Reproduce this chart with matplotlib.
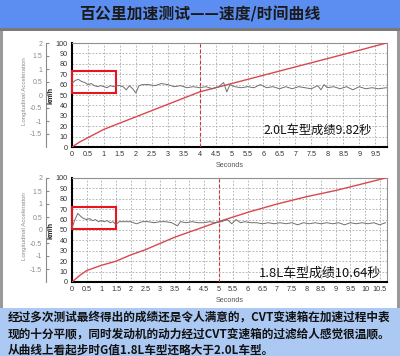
import matplotlib
matplotlib.use('Agg')
import matplotlib.pyplot as plt
from matplotlib.patches import Rectangle

# speed curves (km/h)
t_speed_20 = [0, 0.25, 0.5, 1, 1.5, 2, 2.5, 3, 3.5, 4, 4.5, 5, 6, 7, 8, 9, 9.85]
v_speed_20 = [0, 5, 9, 17, 23, 29, 35, 41, 47, 53, 57, 61, 69, 77, 85, 93, 100]
t_speed_18 = [0, 0.25, 0.5, 1, 1.5, 2, 2.5, 3, 3.5, 4, 5, 6, 7, 8, 9, 10, 10.7]
v_speed_18 = [0, 6, 11, 16, 20, 26, 31, 37, 43, 48, 58, 67, 75, 82, 88, 95, 100]

# longitudinal acceleration (G)
t_acc_20 = [0, 0.1, 0.2, 0.3, 0.4, 0.5, 0.6, 0.7, 0.8, 0.9, 1.0, 1.1, 1.2, 1.3,
            1.4, 1.5, 1.6, 1.7, 1.8, 1.9, 2.0, 2.1, 2.2, 2.4, 2.6, 2.8, 3.0,
            3.2, 3.4, 3.6, 3.8, 4.0, 4.2, 4.4, 4.6, 4.75, 4.85, 4.95, 5.1,
            5.3, 5.5, 5.7, 5.9, 6.1, 6.3, 6.5, 6.7, 6.9, 7.1, 7.3, 7.5, 7.7,
            7.8, 7.9, 8.0, 8.2, 8.4, 8.6, 8.8, 9.0, 9.2, 9.4, 9.6, 9.85]
g_acc_20 = [0.44, 0.56, 0.60, 0.52, 0.48, 0.40, 0.44, 0.36, 0.32, 0.36, 0.32,
            0.28, 0.36, 0.32, 0.36, 0.36, 0.32, 0.20, 0.36, 0.24, 0.08, 0.36,
            0.40, 0.40, 0.36, 0.44, 0.40, 0.32, 0.36, 0.28, 0.32, 0.28, 0.32,
            0.24, 0.32, 0.48, 0.12, 0.40, 0.32, 0.28, 0.32, 0.28, 0.40, 0.28,
            0.32, 0.24, 0.32, 0.24, 0.32, 0.28, 0.24, 0.36, 0.20, 0.40, 0.28,
            0.32, 0.24, 0.32, 0.20, 0.32, 0.24, 0.28, 0.24, 0.28]
t_acc_18 = [0, 0.1, 0.2, 0.3, 0.4, 0.5, 0.6, 0.7, 0.8, 0.9, 1.0, 1.1, 1.2, 1.3,
            1.4, 1.5, 1.6, 1.8, 2.0, 2.2, 2.4, 2.6, 2.8, 3.0, 3.2, 3.4, 3.6,
            3.7, 3.9, 4.1, 4.3, 4.5, 4.7, 4.9, 5.1, 5.3, 5.45, 5.6, 5.75, 5.9,
            6.1, 6.3, 6.5, 6.7, 6.9, 7.1, 7.3, 7.5, 7.7, 7.9, 8.1, 8.3, 8.5,
            8.7, 8.9, 9.1, 9.3, 9.5, 9.7, 9.9, 10.1, 10.3, 10.5, 10.7]
g_acc_18 = [0.08, 0.40, 0.64, 0.52, 0.44, 0.40, 0.44, 0.36, 0.40, 0.32, 0.36,
            0.32, 0.36, 0.28, 0.32, 0.20, 0.32, 0.32, 0.32, 0.24, 0.32, 0.32,
            0.28, 0.32, 0.32, 0.28, 0.16, 0.32, 0.28, 0.32, 0.28, 0.28, 0.32,
            0.28, 0.32, 0.40, 0.24, 0.40, 0.28, 0.32, 0.28, 0.28, 0.24, 0.28,
            0.24, 0.28, 0.24, 0.28, 0.20, 0.28, 0.24, 0.28, 0.24, 0.28, 0.24,
            0.28, 0.20, 0.28, 0.24, 0.28, 0.24, 0.28, 0.20, 0.28]

g_ticks = [2, 1.5, 1, 0.5, 0, -0.5, -1, -1.5]
g_labels = ['2', '1.5', '1', '0.5', '0', '-0.5', '-1', '-1.5']

title = '百公里加速测试——速度/时间曲线'
note_20 = '2.0L车型成绩9.82秒'
note_18 = '1.8L车型成绩10.64秒'
body_lines = ['经过多次测试最终得出的成绩还是令人满意的，CVT变速箱在加速过程中表',
              '现的十分平顺，同时发动机的动力经过CVT变速箱的过滤给人感觉很温顺。',
              '从曲线上看起步时G值1.8L车型还略大于2.0L车型。']

W, H = 400, 356
CJK = ['Noto Sans CJK SC', 'DejaVu Sans']
TICKFONT = 'Liberation Sans'


def fx(px):
    return px / W


def fy(py):
    return 1 - py / H


def draw_panel(fig, top_px, bot_px, xmax, t_v, v, t_a, g, vline, box_t, box_v,
               note, note_xy, note_size):
    ax = fig.add_axes([fx(72), fy(bot_px), fx(387) - fx(72), fy(top_px) - fy(bot_px)])
    ax.set_xlim(0, xmax)
    ax.set_ylim(0, 100)
    xt = [i * 0.5 for i in range(int(xmax / 0.5) + 1)]
    ax.set_xticks(xt)
    ax.set_xticklabels([('%g' % x) for x in xt], fontsize=5.2, family=TICKFONT,
                       color='#333333')
    ax.set_yticks(range(0, 101, 10))
    ax.set_yticklabels([str(y) for y in range(0, 101, 10)], fontsize=5.2,
                       family=TICKFONT, color='#333333')
    ax.tick_params(length=0, pad=3)
    ax.grid(True, color='#a8a8a8', linestyle=(0, (2, 2)), linewidth=0.6)
    for s in ['left', 'bottom']:
        ax.spines[s].set_color('black')
        ax.spines[s].set_linewidth(1.5)
    for s in ['top', 'right']:
        ax.spines[s].set_color('#909090')
        ax.spines[s].set_linewidth(0.8)

    ax.plot(t_v, v, color='#d9484f', linewidth=1.0, zorder=3)
    ax.axvline(vline, color='#d03030', linestyle=(0, (3, 2)), linewidth=0.8, zorder=3)
    ax.add_patch(Rectangle((box_t[0], box_v[0]), box_t[1] - box_t[0],
                           box_v[1] - box_v[0], fill=False,
                           edgecolor='#e8141e', linewidth=1.5, zorder=5,
                           clip_on=False))

    ax2 = ax.twinx()
    ax2.set_ylim(-2, 2)
    ax2.plot(t_a, g, color='#6f6f6f', linewidth=0.7)
    ax2.yaxis.set_ticks_position('left')
    ax2.yaxis.set_label_position('left')
    ax2.spines['left'].set_position(('outward', 18.5))
    ax2.spines['left'].set_visible(True)
    ax2.spines['left'].set_color('#8a8a8a')
    ax2.spines['left'].set_linewidth(0.8)
    for s in ['right', 'top', 'bottom']:
        ax2.spines[s].set_visible(False)
    ax2.set_yticks(g_ticks)
    ax2.set_yticklabels(g_labels, fontsize=5.0, family=TICKFONT, color='#8a8a8a')
    ax2.tick_params(axis='y', direction='in', length=2, pad=3, colors='#8a8a8a')

    aw = 387 - 72
    ah = bot_px - top_px
    ax.text((51 - 72) / aw, 0.5, 'km/h', transform=ax.transAxes, rotation=90,
            ha='center', va='center', fontsize=5.2, family=TICKFONT,
            color='#222222', fontweight='bold')
    ax.text((24.5 - 72) / aw, 0.54, 'Longitudinal Acceleration', transform=ax.transAxes,
            rotation=90, ha='center', va='center', fontsize=4.4,
            family=TICKFONT, color='#8a8a8a')
    ax.text(0.5, -18.5 / ah, 'Seconds', transform=ax.transAxes, ha='center',
            va='center', fontsize=5.2, family=TICKFONT, color='#555555')
    ax2.text(note_xy[0], note_xy[1], note, transform=ax.transAxes, ha='center',
             va='center', fontsize=note_size, family=CJK, color='#111111', zorder=6)
    return ax


fig = plt.figure(figsize=(4, 3.56), dpi=100)
fig.patch.set_facecolor('white')

# title bar, shadow, side borders, bottom text box
fig.add_artist(Rectangle((0, fy(28)), 1, 28 / H, transform=fig.transFigure,
                         facecolor='#5b8ef0', edgecolor='none', zorder=-1))
fig.add_artist(Rectangle((0, fy(31)), 1, 3 / H, transform=fig.transFigure,
                         facecolor='#7a7a7a', edgecolor='none', zorder=-1))
fig.add_artist(Rectangle((0, fy(308)), fx(3), (308 - 31) / H,
                         transform=fig.transFigure, facecolor='#9a9a9a',
                         edgecolor='none', zorder=-1))
fig.add_artist(Rectangle((fx(397), fy(308)), fx(3), (308 - 31) / H,
                         transform=fig.transFigure, facecolor='#9a9a9a',
                         edgecolor='none', zorder=-1))
fig.add_artist(Rectangle((0, 0), 1, 48 / H, transform=fig.transFigure,
                         facecolor='#abc9f3', edgecolor='none', zorder=-1))

fig.text(0.5, fy(14.5), title, ha='center', va='center', fontsize=11.4,
         family=CJK, fontweight='bold', color='#1a1a1a')

draw_panel(fig, 43, 147, 9.87, t_speed_20, v_speed_20, t_acc_20, g_acc_20, 4,
           (0, 1.38), (52, 73), note_20, (0.78, 0.163), 8.8)
draw_panel(fig, 178, 282, 10.75, t_speed_18, v_speed_18, t_acc_18, g_acc_18, 5,
           (0, 1.5), (51, 72), note_18, (0.787, 0.087), 9.3)

for i, line in enumerate(body_lines):
    fig.text(fx(8), fy(317 + 16.5 * i), line, ha='left', va='center',
             fontsize=8.4, family=CJK, fontweight='bold', color='#111111')

fig.savefig('out.png', dpi=100)
